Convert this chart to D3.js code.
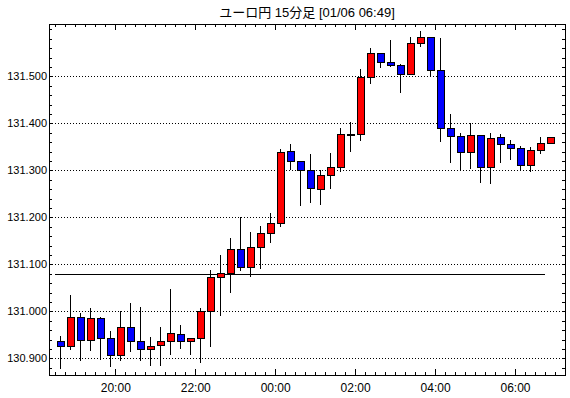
<!DOCTYPE html>
<html>
<head>
<meta charset="utf-8">
<script src="https://cdn.jsdelivr.net/npm/d3@7"></script>
<style>
  body { margin: 0; background: #fff; }
  text { font-family: "Liberation Sans", Arial, sans-serif; }
</style>
</head>
<body>
<script>
// ユーロ円 15分足 candlestick
const times = ["18:30","18:45","19:00","19:15","19:30","19:45","20:00","20:15","20:30","20:45",
               "21:00","21:15","21:30","21:45","22:00","22:15","22:30","22:45","23:00","23:15",
               "23:30","23:45","00:00","00:15","00:30","00:45","01:00","01:15","01:30","01:45",
               "02:00","02:15","02:30","02:45","03:00","03:15","03:30","03:45","04:00","04:15",
               "04:30","04:45","05:00","05:15","05:30","05:45","06:00","06:15","06:30","06:45"]
const opens  = [130.936,130.925,130.987,130.938,130.985,130.943,130.906,130.966,130.935,130.918,
                130.928,130.936,130.951,130.936,130.943,130.999,131.072,131.081,131.132,131.094,
                131.136,131.166,131.187,131.340,131.319,131.300,131.260,131.289,131.306,131.376,
                131.376,131.498,131.549,131.530,131.523,131.504,131.570,131.583,131.513,131.389,
                131.372,131.338,131.374,131.306,131.370,131.355,131.347,131.311,131.343,131.357]
const highs  = [130.947,131.035,130.997,131.006,130.988,130.958,131.001,131.018,131.010,130.945,
                130.967,131.047,130.971,130.943,131.008,131.088,131.120,131.156,131.200,131.168,
                131.181,131.209,131.345,131.357,131.319,131.335,131.300,131.337,131.391,131.402,
                131.516,131.561,131.549,131.577,131.526,131.584,131.596,131.583,131.581,131.420,
                131.379,131.400,131.374,131.379,131.377,131.364,131.351,131.349,131.370,131.370]
const lows   = [130.878,130.918,130.895,130.916,130.896,130.882,130.895,130.914,130.895,130.884,
                130.884,130.908,130.920,130.906,130.891,130.925,130.991,131.038,131.085,131.074,
                131.089,131.146,131.180,131.300,131.225,131.231,131.227,131.260,131.296,131.340,
                131.363,131.484,131.518,131.519,131.465,131.504,131.563,131.498,131.361,131.316,
                131.300,131.303,131.274,131.270,131.315,131.321,131.298,131.296,131.334,131.355]
const closes = [130.926,130.987,130.938,130.985,130.943,130.906,130.966,130.936,130.918,130.926,
                130.936,130.953,130.936,130.943,130.999,131.072,131.081,131.132,131.094,131.136,
                131.166,131.187,131.338,131.319,131.300,131.262,131.289,131.306,131.377,131.376,
                131.498,131.549,131.530,131.523,131.504,131.570,131.583,131.513,131.389,131.372,
                131.338,131.374,131.306,131.368,131.355,131.347,131.311,131.343,131.357,131.370]
const gridValues = [130.9, 131.0, 131.1, 131.2, 131.3, 131.4, 131.5]
const refLevel = 131.079
const refFrom = "18:30", refTo = "06:45"
const title = "ユーロ円 15分足 [01/06 06:49]"

const w = 570, h = 398
const padL = 49, padR = 565, padT = 24, padB = 375

const parseT = (s) => {
    const [hh, mm] = s.split(":").map(Number)
    return new Date(2025, 0, hh < 12 ? 6 : 5, hh, mm)
}
const data = times.map((t, i) => ({
    t: parseT(t), o: opens[i], hi: highs[i], lo: lows[i], c: closes[i]
}))

const svg = d3.select("body")
              .append("svg")
              .attr("width", w)
              .attr("height", h)
              .style("background-color", "white")
              .attr("shape-rendering", "crispEdges")

const xScale = d3.scaleTime()
                 .domain([new Date(2025, 0, 5, 18, 20, 30), new Date(2025, 0, 6, 7, 15)])
                 .range([padL, padR])
const yScale = d3.scaleLinear()
                 .domain([130.8645, 131.6113])
                 .range([padB, padT])

// title
svg.append("text")
   .attr("x", (padL + padR) / 2)
   .attr("y", 17)
   .attr("text-anchor", "middle")
   .style("font-size", "13px")
   .style("font-family", "'Liberation Sans', 'Noto Sans CJK JP', sans-serif")
   .text(title)

// dotted grid
svg.selectAll(".grid")
   .data(gridValues)
   .enter()
   .append("line")
   .attr("class", "grid")
   .attr("x1", padL).attr("x2", padR)
   .attr("y1", d => Math.round(yScale(d)) + 0.5)
   .attr("y2", d => Math.round(yScale(d)) + 0.5)
   .attr("stroke", "black")
   .attr("stroke-dasharray", "1,2")

// y labels
svg.selectAll(".ylab")
   .data(gridValues)
   .enter()
   .append("text")
   .attr("class", "ylab")
   .attr("x", padL - 2)
   .attr("y", d => yScale(d))
   .attr("dy", "0.35em")
   .attr("text-anchor", "end")
   .style("font-size", "11px")
   .text(d => d3.format(".3f")(d))

// y minor ticks, both sides
const yTicks = d3.range(130.88, 131.61, 0.02).map(v => +v.toFixed(2))
svg.append("g")
   .attr("transform", "translate(" + padL + ",0)")
   .call(d3.axisRight(yScale).tickValues(yTicks).tickSize(3).tickFormat(""))
   .call(g => g.select(".domain").remove())
svg.append("g")
   .attr("transform", "translate(" + padR + ",0)")
   .call(d3.axisLeft(yScale).tickValues(yTicks).tickSize(3).tickFormat(""))
   .call(g => g.select(".domain").remove())

// x ticks bottom and top
const minor = d3.timeMinute.every(15)
const major = d3.timeHour.every(2)
svg.append("g")
   .attr("transform", "translate(0," + padB + ")")
   .call(d3.axisTop(xScale).ticks(minor).tickSize(3).tickFormat(""))
   .call(g => g.select(".domain").remove())
svg.append("g")
   .attr("transform", "translate(0," + padB + ")")
   .call(d3.axisTop(xScale).ticks(major).tickSize(6).tickFormat(""))
   .call(g => g.select(".domain").remove())
svg.append("g")
   .attr("transform", "translate(0," + padT + ")")
   .call(d3.axisBottom(xScale).ticks(minor).tickSize(3).tickFormat(""))
   .call(g => g.select(".domain").remove())
svg.append("g")
   .attr("transform", "translate(0," + padT + ")")
   .call(d3.axisBottom(xScale).ticks(major).tickSize(6).tickFormat(""))
   .call(g => g.select(".domain").remove())

// x labels
svg.append("g")
   .attr("transform", "translate(0," + padB + ")")
   .call(d3.axisBottom(xScale).ticks(major).tickSize(0).tickPadding(8).tickFormat(d3.timeFormat("%H:%M")))
   .call(g => g.select(".domain").remove())
   .selectAll("text")
   .style("font-size", "12px")
   .style("font-family", "'Liberation Sans', Arial, sans-serif")
   .attr("fill", "black")

// reference line
svg.append("line")
   .attr("x1", xScale(parseT(refFrom)))
   .attr("x2", xScale(parseT(refTo)))
   .attr("y1", Math.round(yScale(refLevel)) + 0.5)
   .attr("y2", Math.round(yScale(refLevel)) + 0.5)
   .attr("stroke", "black")

// candles
const mid = (d) => Math.round(xScale(new Date(+d.t + 7.5 * 60000))) + 0.5
const candles = svg.selectAll(".candle")
                   .data(data)
                   .enter()
                   .append("g")
                   .attr("class", "candle")
candles.append("line")
       .attr("x1", mid).attr("x2", mid)
       .attr("y1", d => yScale(d.hi))
       .attr("y2", d => yScale(d.lo))
       .attr("stroke", "black")
candles.append("rect")
       .attr("x", d => mid(d) - 3.5)
       .attr("width", 7)
       .attr("y", d => yScale(Math.max(d.o, d.c)))
       .attr("height", d => Math.max(Math.abs(yScale(d.o) - yScale(d.c)), 1))
       .attr("fill", (d) => {
        if (d.c > d.o) {
            return "#ff0000"
        } else if (d.c < d.o) {
            return "#0000ff"
        } else {
            return "black"
        }
       })
       .attr("stroke", "black")

// frame
svg.append("rect")
   .attr("x", padL + 0.5).attr("y", padT + 0.5)
   .attr("width", padR - padL).attr("height", padB - padT)
   .attr("fill", "none")
   .attr("stroke", "black")
</script>
</body>
</html>
